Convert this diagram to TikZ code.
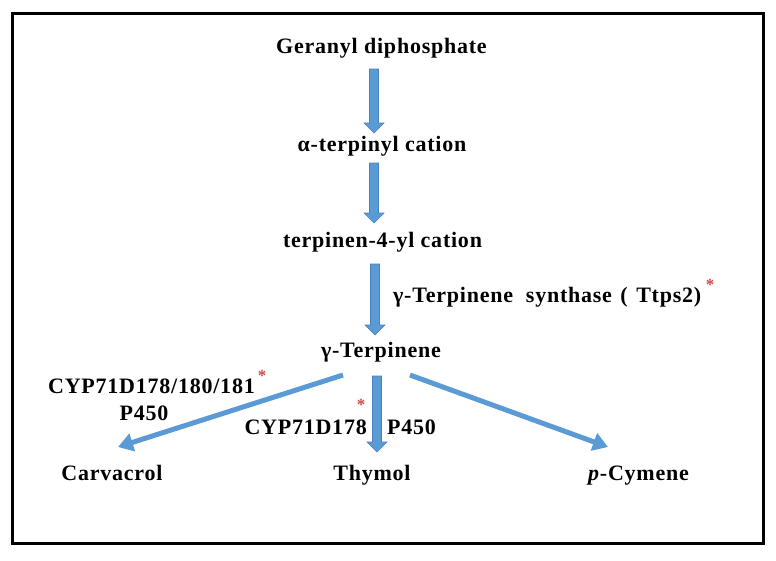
\documentclass[tikz,border=0pt]{standalone}
\usepackage{fontspec}
\setmainfont[LetterSpace=3.5]{Liberation Serif}
\newfontfamily\astfont{Liberation Serif}
\usetikzlibrary{arrows.meta,calc}
\definecolor{arrblue}{HTML}{5B9BD5}
\definecolor{arredge}{HTML}{4A80BE}
\definecolor{astred}{HTML}{D04848}
\newcommand\blockarr[2]{%
  \filldraw[blockstyle] ($(#1)+(-4.5,0)$) -- ($(#2)+(-4.5,-10)$) -- ($(#2)+(-10,-10)$) -- (#2)
    -- ($(#2)+(10,-10)$) -- ($(#2)+(4.5,-10)$) -- ($(#1)+(4.5,0)$) -- cycle;}
\begin{document}
\begin{tikzpicture}[x=1pt,y=-1pt,
  lbl/.style={inner sep=0pt,font=\fontsize{22}{25}\selectfont\bfseries},
  ast/.style={inner sep=0pt,text=astred,font=\astfont\fontsize{17}{18}\selectfont\bfseries},
  blockstyle/.style={fill=arrblue,draw=arredge,line width=0.6pt,line join=miter},
  diag/.style={draw=arrblue,line width=5pt,-{Triangle[length=15pt,width=18pt]}}]
\useasboundingbox (0,0) rectangle (776,560);
\draw[line width=3pt] (12,13) rectangle (763,543);
% labels
\node[lbl,anchor=base] (gdp) at (381.5,53) {Geranyl diphosphate};
\node[lbl,anchor=base] (atc) at (382,151) {α-terpinyl cation};
\node[lbl,anchor=base] (t4c) at (382.5,247) {terpinen-4-yl cation};
\node[lbl,anchor=base west] (tps) at (393,302) {γ-Terpinene\hspace{0.3em} synthase\hspace{0.1em} (\hspace{0.1em} Ttps2)};
\node[ast] (a0) at (710,285) {*};
\node[lbl,anchor=base] (gt) at (381,357) {γ-Terpinene};
\node[lbl,anchor=base east] (cypL) at (255,393) {CYP71D178/180/181};
\node[ast] (a1) at (262,376) {*};
\node[lbl,anchor=base] (p450L) at (144,420) {P450};
\node[lbl,anchor=base east] (cypM) at (367,434) {CYP71D178};
\node[ast] (a2) at (361,405) {*};
\node[lbl,anchor=base west] (p450M) at (387,434) {P450};
\node[lbl,anchor=base] (carv) at (112,480) {Carvacrol};
\node[lbl,anchor=base] (thy) at (372,480) {Thymol};
\node[lbl,anchor=base west] (cym) at (588,480) {\textit{p}-Cymene};
% arrow end points
\coordinate (s1) at (374,69);  \coordinate (e1) at (374,133);
\coordinate (s2) at (374,163); \coordinate (e2) at (374,223);
\coordinate (s3) at (375,264); \coordinate (e3) at (375,335);
\coordinate (s4) at (377,376); \coordinate (e4) at (377,452);
\coordinate (sl) at (343,375); \coordinate (el) at (118,447);
\coordinate (sr) at (410,375); \coordinate (er) at (608,447);
\blockarr{s1}{e1}
\blockarr{s2}{e2}
\blockarr{s3}{e3}
\blockarr{s4}{e4}
\draw[diag] (sl) -- (el);
\draw[diag] (sr) -- (er);
\end{tikzpicture}
\end{document}
